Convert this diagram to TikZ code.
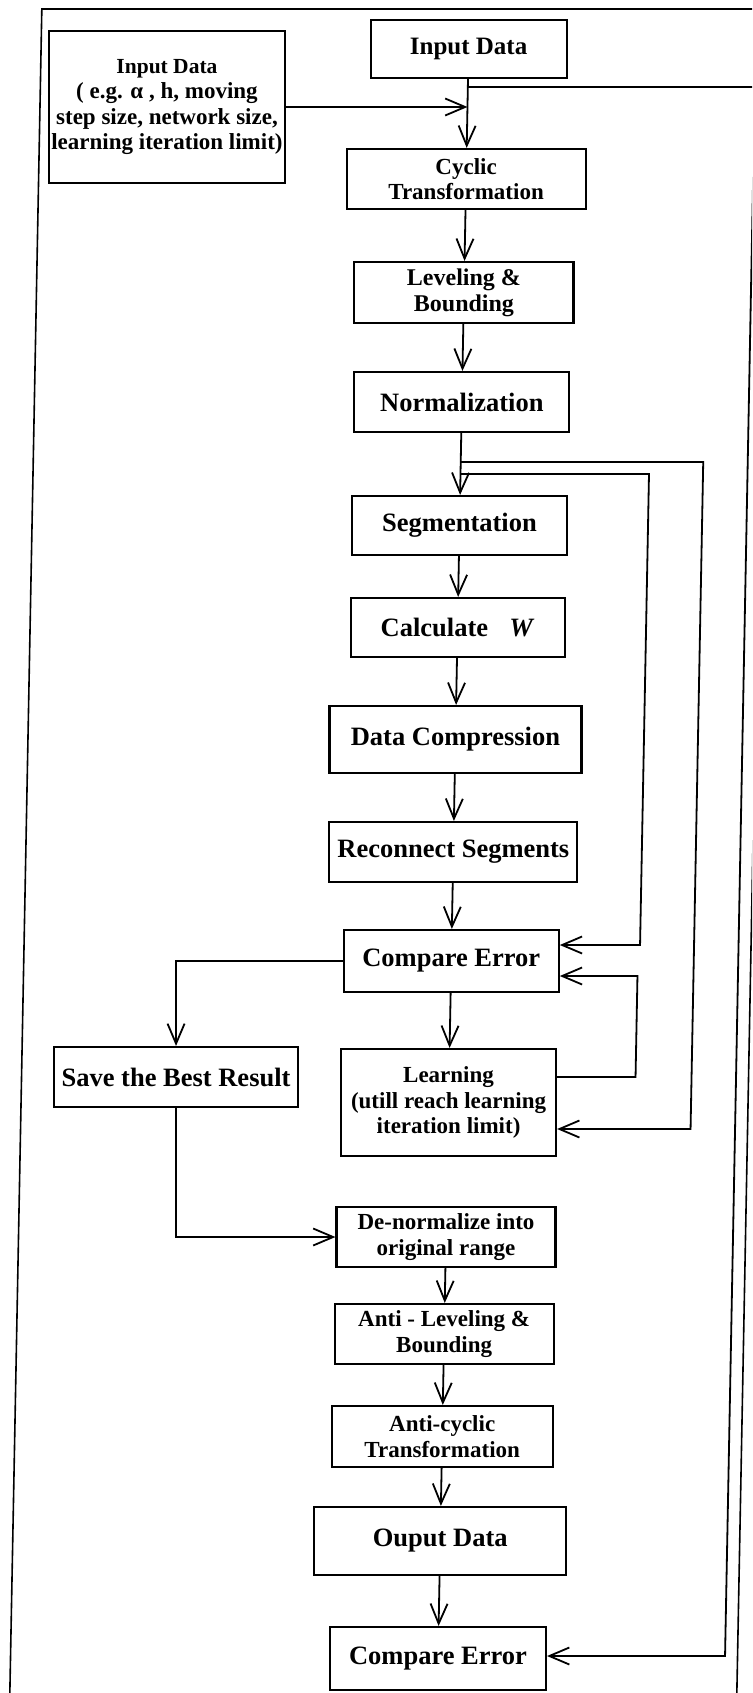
\documentclass[tikz,border=0pt]{standalone}
\usepackage{fontspec}
\setmainfont{Liberation Serif}
\usetikzlibrary{arrows.meta}
\begin{document}
\begin{tikzpicture}[x=1pt, y={(-0.019pt,-1pt)},
  box/.style={draw, line width=2.1pt, align=center, inner sep=0pt, font=\fontsize{26.5}{30}\selectfont\bfseries},
  twoline/.style={box, font=\fontsize{23}{25.5}\selectfont\bfseries},
  conn/.style={line width=1.8pt},
  arr/.style={conn, -{Straight Barb[length=20pt,width=17pt]}},
  frame/.style={line width=1.6pt}]
\useasboundingbox (0pt,0pt) rectangle (752pt,-1693pt);
\clip (0pt,0pt) rectangle (752pt,-1693pt);
\fill[white] (0pt,0pt) rectangle (752pt,-1693pt);

% outer frame
\draw[frame] (42,1800) -- (42,9) -- (769,9) -- (769,1800);

% nodes
\node[box, minimum width=196, minimum height=58, font=\fontsize{25}{28}\selectfont\bfseries] (inp) at (469.5,49) {Input Data};
\node[twoline, minimum width=236, minimum height=152] (inpL) at (169,107) {{\fontsize{21.5}{25.5}\selectfont Input Data}\\( e.g. α , h, moving\\step size, network size,\\learning iteration limit)};
\node[twoline, minimum width=239, minimum height=60] (cyc) at (469.5,179) {Cyclic\\Transformation};
\node[twoline, minimum width=219, minimum height=61, font=\fontsize{24}{26}\selectfont\bfseries] (lev) at (469.5,292.5) {Leveling \&\\Bounding};
\node[box, minimum width=215, minimum height=60] (norm) at (469.5,402) {Normalization};
\node[box, minimum width=215, minimum height=59] (seg) at (469.5,525.5) {Segmentation};
\node[box, minimum width=214, minimum height=59] (calc) at (469.5,627.5) {Calculate\hspace{0.8em}\textit{W}};
\node[box, minimum width=252, minimum height=67] (dc) at (469.5,739.5) {Data Compression};
\node[box, minimum width=248, minimum height=60] (rec) at (469.5,852) {Reconnect Segments};
\node[box, minimum width=215, minimum height=62] (cmp) at (469.5,961) {Compare Error};
\node[box, minimum width=244, minimum height=60] (save) at (196.5,1077) {Save the Best Result};
\node[twoline, minimum width=215, minimum height=107] (learn) at (469.5,1102.5) {Learning\\(utill reach learning\\iteration limit)};
\node[twoline, minimum width=219, minimum height=60] (den) at (469.5,1237) {De-normalize into\\original range};
\node[twoline, minimum width=219, minimum height=60] (alev) at (469.5,1334) {Anti - Leveling \&\\Bounding};
\node[twoline, minimum width=221, minimum height=61] (acyc) at (469.5,1436.5) {Anti-cyclic\\Transformation};
\node[box, minimum width=252, minimum height=68] (out) at (469.5,1541) {Ouput Data};
\node[box, minimum width=216, minimum height=63] (ce2) at (469.5,1658.5) {Compare Error};

% junctions and corners
\coordinate (j87) at (469.5,87);
\coordinate (r87) at (756.5,87);
\coordinate (r1656) at (756.5,1656);
\coordinate (jin) at (469.5,107);
\coordinate (j462) at (469.5,462);
\coordinate (o462) at (712,462);
\coordinate (o1129) at (712,1129);
\coordinate (j474) at (469.5,474);
\coordinate (i474) at (658,474);
\coordinate (i945) at (658,945);
\coordinate (l1077) at (656,1077);
\coordinate (l976) at (656,976);

% main chain
\draw[arr] (inp) -- (cyc);
\draw[arr] (inpL.east) -- (jin);
\draw[arr] (cyc) -- (lev);
\draw[arr] (lev) -- (norm);
\draw[arr] (norm) -- (seg);
\draw[arr] (seg) -- (calc);
\draw[arr] (calc) -- (dc);
\draw[arr] (dc) -- (rec);
\draw[arr] (rec) -- (cmp);
\draw[arr] (cmp) -- (learn);
\draw[arr] (den) -- (alev);
\draw[arr] (alev) -- (acyc);
\draw[arr] (acyc) -- (out);
\draw[arr] (out) -- (ce2);

% feedback lines
\draw[arr] (j87) -- (r87) -- (r1656) -- (ce2.east |- r1656);
\draw[arr] (j462) -- (o462) -- (o1129) -- (learn.east |- o1129);
\draw[arr] (j474) -- (i474) -- (i945) -- (cmp.east |- i945);
\draw[arr] (learn.east |- l1077) -- (l1077) -- (l976) -- (cmp.east |- l976);
\draw[arr] (cmp.west) -| (save.north);
\draw[arr] (save.south) |- (den.west);
\end{tikzpicture}
\end{document}
